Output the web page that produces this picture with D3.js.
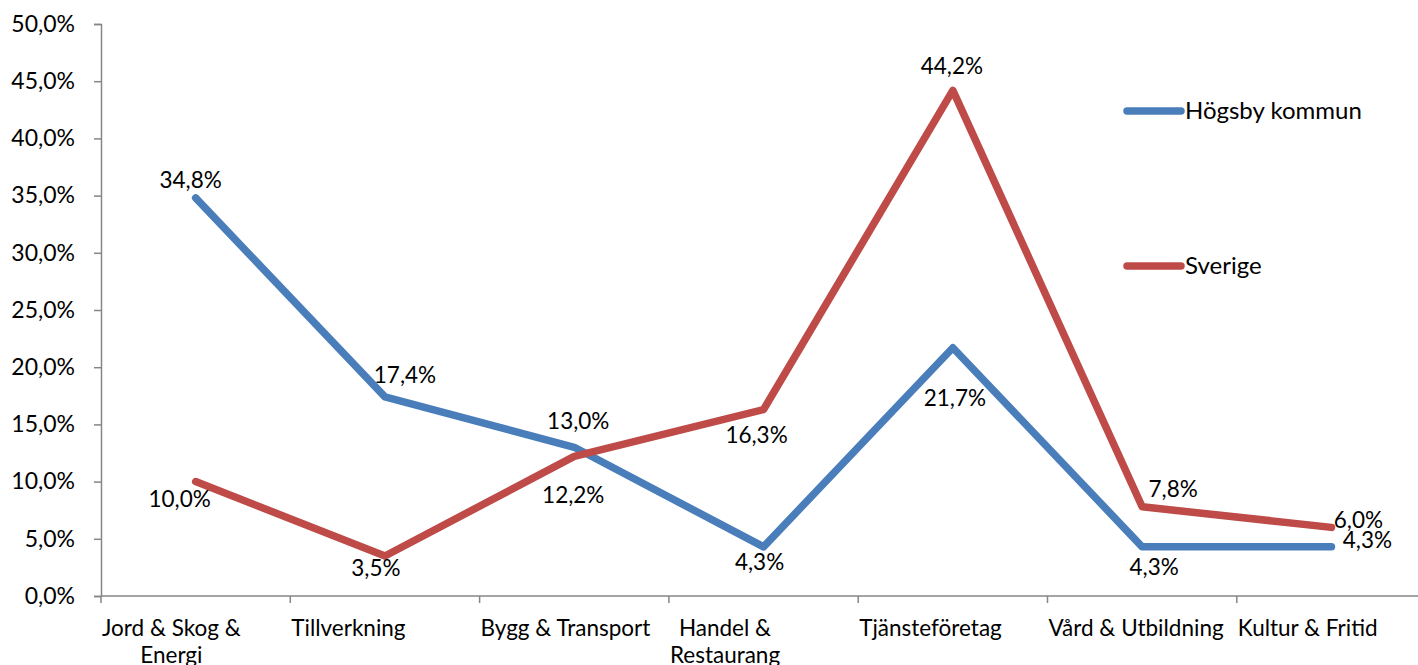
<!DOCTYPE html>
<html>
<head>
<meta charset="utf-8">
<script src="https://cdn.jsdelivr.net/npm/d3@7"></script>
<style>
  html, body { margin: 0; padding: 0; background: #fff; }
  svg text { font-family: Lato, "Liberation Sans", sans-serif; fill: #000; }
</style>
</head>
<body>
<div id="chart"></div>
<script>
// data
var categories = ["Jord & Skog & Energi", "Tillverkning", "Bygg & Transport", "Handel & Restaurang",
  "Tjänsteföretag", "Vård & Utbildning", "Kultur & Fritid"];
var categoryLines = [["Jord & Skog &", "Energi"], ["Tillverkning"], ["Bygg & Transport"], ["Handel &", "Restaurang"],
  ["Tjänsteföretag"], ["Vård & Utbildning"], ["Kultur & Fritid"]];
var hogsby = [34.8, 17.4, 13.0, 4.3, 21.7, 4.3, 4.3];
var sverige = [10.0, 3.5, 12.2, 16.3, 44.2, 7.8, 6.0];
var seriesNames = ["Högsby kommun", "Sverige"];
var yTicks = [0, 5, 10, 15, 20, 25, 30, 35, 40, 45, 50];

// label offsets (px) from each point, mimicking the original placement
var hogsbyLabelOff = [[-5, -18], [20, -22], [4, -26], [-4, 15], [2, 50], [12, 20], [36, -7]];
var sverigeLabelOff = [[-16, 18], [-9, 12], [-1, 39], [-7, 26], [-1, -24], [31, -18], [27, -7]];

var W = 1418, H = 665;
var margin = { left: 101, top: 24 };
var band = 189.3;
var plotBottom = 596;

var svg = d3.select("#chart").append("svg")
  .attr("width", W)
  .attr("height", H);

var x = d3.scaleBand()
  .domain(categories)
  .range([margin.left, margin.left + band * categories.length]);
var y = d3.scaleLinear().domain([0, 50]).range([plotBottom, margin.top]);

var fmt = function (v) { return v.toFixed(1).replace(".", ",") + "%"; };
var axisColor = "#868686";
var fontSize = 22.5;

// y axis
var yAxis = d3.axisLeft(y).tickValues(yTicks).tickSize(7).tickPadding(19).tickFormat(fmt);
var gy = svg.append("g")
  .attr("transform", "translate(" + margin.left + ",0)")
  .call(yAxis);
gy.select(".domain").attr("stroke", axisColor).attr("stroke-width", 1.5);
gy.selectAll(".tick line").attr("stroke", axisColor).attr("stroke-width", 1.5);
gy.selectAll(".tick text").attr("font-size", fontSize + 0.5).attr("font-family", null).attr("fill", "#000");

// x axis line and ticks
var gx = svg.append("g");
gx.append("line")
  .attr("x1", margin.left).attr("x2", W)
  .attr("y1", plotBottom).attr("y2", plotBottom)
  .attr("stroke", axisColor).attr("stroke-width", 1.5);
gx.selectAll(".xtick")
  .data(categories)
  .enter().append("line")
  .attr("x1", function (d) { return x(d); })
  .attr("x2", function (d) { return x(d); })
  .attr("y1", plotBottom).attr("y2", plotBottom + 7)
  .attr("stroke", axisColor).attr("stroke-width", 1.5);

// category labels: block starts at left tick, lines centred within block
categories.forEach(function (c, i) {
  var g = gx.append("g");
  var texts = categoryLines[i].map(function (line, j) {
    return g.append("text")
      .attr("font-size", fontSize)
      .attr("y", 628 + j * 27)
      .attr("dy", "0.35em")
      .attr("text-anchor", "middle")
      .text(line);
  });
  var maxW = d3.max(texts, function (t) { return t.node().getComputedTextLength(); });
  texts.forEach(function (t) { t.attr("x", x(c) + 1 + maxW / 2); });
});

var line = d3.line()
  .x(function (d, i) { return x(categories[i]) + x.bandwidth() / 2; })
  .y(function (d) { return y(d); });

var series = [
  { name: seriesNames[0], values: hogsby, color: "#4a7ebb", off: hogsbyLabelOff },
  { name: seriesNames[1], values: sverige, color: "#be4b48", off: sverigeLabelOff }
];

series.forEach(function (s) {
  svg.append("path")
    .datum(s.values)
    .attr("fill", "none")
    .attr("stroke", s.color)
    .attr("stroke-width", 7.5)
    .attr("stroke-linejoin", "round")
    .attr("stroke-linecap", "round")
    .attr("d", line);
});

series.forEach(function (s) {
  svg.append("g").selectAll("text")
    .data(s.values)
    .enter().append("text")
    .attr("font-size", fontSize)
    .attr("text-anchor", "middle")
    .attr("dy", "0.35em")
    .attr("x", function (d, i) { return x(categories[i]) + x.bandwidth() / 2 + s.off[i][0]; })
    .attr("y", function (d, i) { return y(d) + s.off[i][1]; })
    .text(fmt);
});

// legend
var legendY = [111, 266];
series.forEach(function (s, i) {
  var g = svg.append("g").attr("transform", "translate(1125," + legendY[i] + ")");
  g.append("line")
    .attr("x1", 2).attr("x2", 56)
    .attr("stroke", s.color).attr("stroke-width", 7.5)
    .attr("stroke-linecap", "round");
  g.append("text")
    .attr("x", 60)
    .attr("dy", "0.35em")
    .attr("font-size", fontSize + 1.5)
    .text(s.name);
});
</script>
</body>
</html>
